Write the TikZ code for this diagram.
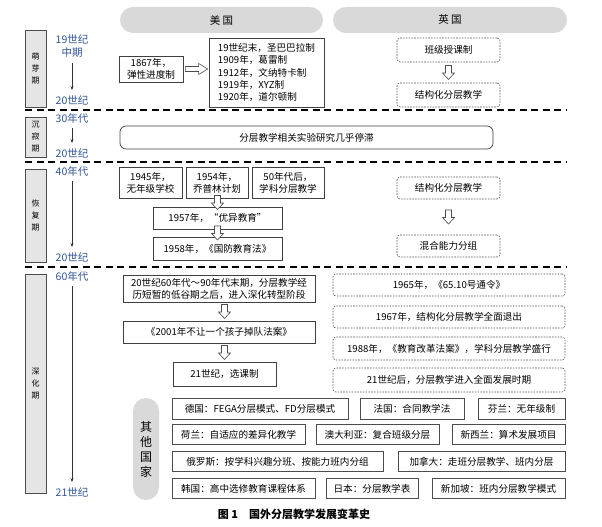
\documentclass[tikz,border=0pt]{standalone}
\usepackage{fontspec}
\setmainfont{Noto Sans CJK SC}
\usetikzlibrary{arrows.meta,calc}
\definecolor{yearblue}{RGB}{47,85,151}

\begin{document}
\begin{tikzpicture}[x=1pt,y=-1pt]
  \tikzstyle{every node}+=[inner sep=0pt, align=center, font=\fontsize{9.6}{12}\selectfont]
  \tikzstyle{pill}=[fill=black!15, rounded corners=13pt]
  \tikzstyle{stage}=[draw=black!70, fill=black!10, line width=0.8pt, minimum width=21pt, font=\fontsize{8}{12}\selectfont]
  \tikzstyle{yr}=[text=yearblue, font=\fontsize{10.5}{13}\selectfont]
  \tikzstyle{usbox}=[draw=black!75, fill=white, line width=0.7pt]
  \tikzstyle{ukbox}=[draw=black!65, line width=0.6pt, dash pattern=on 1.6pt off 1.2pt, rounded corners=3pt, fill=white]
  \tikzstyle{other}=[draw=black!70, fill=white, line width=0.6pt, minimum height=20.5pt]
  \tikzstyle{tline}=[black!80, line width=0.6pt, -{Stealth[length=4pt,width=3pt]}, shorten <=5pt, shorten >=5pt]
  \tikzstyle{hollow}=[draw=black!70, fill=white, line width=0.6pt]
  \tikzstyle{sep}=[line width=1.3pt, dash pattern=on 7pt off 4.5pt]
  \useasboundingbox (0,0) rectangle (602,527);
  \fill[white] (0,0) rectangle (602,527);
  % headers
  \node[pill, minimum width=203pt, minimum height=26pt] (hus) at (221.5,20) {\fontsize{10.5}{12}\selectfont 美~国};
  \node[pill, minimum width=234pt, minimum height=26pt] (huk) at (450,20) {\fontsize{10.5}{12}\selectfont 英~国};
  % stage 1
  \node[stage, minimum height=77pt] (s1) at (35.5,68.5) {萌\\芽\\期};
  \node[yr] (t19) at (72,46.5) {19世纪\\中期};
  \node[yr] (t20a) at (72,100) {20世纪};
  \draw[tline] (t19) -- (t20a);
  \node[usbox, minimum width=64pt, minimum height=26pt] (n1867) at (151,69) {1867年，\\弹性进度制};
  \node[usbox, minimum width=115pt, minimum height=69pt, align=left, font=\fontsize{9.6}{12.2}\selectfont] (usA) at (266.5,72.5)
    {19世纪末，圣巴巴拉制\\1909年，葛雷制\\1912年，文纳特卡制\\1919年，XYZ制\\1920年，道尔顿制};
  \node[ukbox, minimum width=103pt, minimum height=24pt] (ukA) at (448.5,50) {班级授课制};
  \node[ukbox, minimum width=103pt, minimum height=24pt] (ukB) at (448.5,95) {结构化分层教学};
  \draw[sep] (25,110) -- (567,110);
  % stage 2
  \node[stage, minimum height=40pt] (s2) at (35.5,137) {沉\\寂\\期};
  \node[yr] (t30) at (72,118) {30年代};
  \node[yr] (t20b) at (72,153) {20世纪};
  \draw[tline] (t30) -- (t20b);
  \node[usbox, rounded corners=6pt, minimum width=373pt, minimum height=23pt] (stall) at (306.5,137.5) {分层教学相关实验研究几乎停滞};
  \draw[sep] (25,162) -- (567,162);
  % stage 3
  \node[stage, minimum height=93pt] (s3) at (35.5,215.5) {恢\\复\\期};
  \node[yr] (t40) at (72,171) {40年代};
  \node[yr] (t20c) at (72,257) {20世纪};
  \draw[tline] (t40) -- (t20c);
  \node[usbox, minimum width=63pt, minimum height=31pt] (n1945) at (150.5,182.5) {1945年，\\无年级学校};
  \node[usbox, minimum width=62pt, minimum height=31pt] (n1954) at (217,182.5) {1954年，\\乔普林计划};
  \node[usbox, minimum width=72pt, minimum height=31pt] (n50s) at (288,182.5) {50年代后，\\学科分层教学};
  \node[usbox, minimum width=129pt, minimum height=22pt] (n1957) at (217.5,218) {1957年，“优异教育”};
  \node[usbox, minimum width=129pt, minimum height=23pt] (n1958) at (217.5,248.5) {1958年，《国防教育法》};
  \node[ukbox, minimum width=103pt, minimum height=22pt] (ukC) at (448.5,188) {结构化分层教学};
  \node[ukbox, minimum width=103pt, minimum height=22pt] (ukD) at (448.5,246) {混合能力分组};
  \draw[sep] (25,267) -- (567,267);
  % stage 4
  \node[stage, minimum height=219pt] (s4) at (35.5,383.5) {深\\化\\期};
  \node[yr] (t60) at (72,276) {60年代};
  \node[yr] (t21) at (72,492) {21世纪};
  \draw[tline] (t60) -- (t21);
  \node[usbox, minimum width=192pt, minimum height=27pt] (n60s) at (219,288.5) {20世纪60年代～90年代末期，分层教学经\\历短暂的低谷期之后，进入深化转型阶段};
  \node[usbox, minimum width=192pt, minimum height=22pt] (n2001) at (219,332) {《2001年不让一个孩子掉队法案》};
  \node[usbox, minimum width=103pt, minimum height=24pt] (n21c) at (224.5,374) {21世纪，选课制};
  \node[ukbox, minimum width=232pt, minimum height=22pt] (uk1965) at (449,285) {1965年，《65.10号通令》};
  \node[ukbox, minimum width=232pt, minimum height=22pt] (uk1967) at (449,317) {1967年，结构化分层教学全面退出};
  \node[ukbox, minimum width=232pt, minimum height=23pt] (uk1988) at (449,348.5) {1988年，《教育改革法案》，学科分层教学盛行};
  \node[ukbox, minimum width=232pt, minimum height=24pt] (uk21) at (449,380) {21世纪后，分层教学进入全面发展时期};
  % other countries
  \node[pill, minimum width=26pt, minimum height=102pt, font=\fontsize{12}{15}\selectfont] (others) at (146,449) {其\\他\\国\\家};
  \node[other, minimum width=176pt] (de) at (260,409) {德国：FEGA分层模式、FD分层模式};
  \node[other, minimum width=104pt] (fr) at (412,409) {法国：合同教学法};
  \node[other, minimum width=87pt] (fi) at (521.5,409) {芬兰：无年级制};
  \node[other, minimum width=133pt] (nl) at (238.5,434.5) {荷兰：自适应的差异化教学};
  \node[other, minimum width=123pt] (au) at (377.5,434.5) {澳大利亚：复合班级分层};
  \node[other, minimum width=113pt] (nz) at (508.5,434.5) {新西兰：算术发展项目};
  \node[other, minimum width=211pt] (ru) at (277.5,461.5) {俄罗斯：按学科兴趣分班、按能力班内分组};
  \node[other, minimum width=167pt] (ca) at (481.5,461.5) {加拿大：走班分层教学、班内分层};
  \node[other, minimum width=143pt] (kr) at (243.5,488.5) {韩国：高中选修教育课程体系};
  \node[other, minimum width=92pt] (jp) at (372,488.5) {日本：分层教学表};
  \node[other, minimum width=133pt] (sg) at (498.5,488.5) {新加坡：班内分层教学模式};
  % hollow arrows
  \draw[hollow] let \p1=(n1867.east), \p2=(usA.west) in
    (\x1+2pt,\y1+2.5pt) -- (\x2-10pt,\y1+2.5pt) -- (\x2-10pt,\y1+5.5pt) -- (\x2-1pt,\y1) --
    (\x2-10pt,\y1-5.5pt) -- (\x2-10pt,\y1-2.5pt) -- (\x1+2pt,\y1-2.5pt) -- cycle;
  \foreach \a/\b/\c in {ukA/ukB/ukB, n1954/n1957/n1957, n1957/n1958/n1958, ukC/ukD/ukD, n60s/n2001/n21c, n2001/n21c/n21c}
    \draw[hollow] let \p1=(\a.south), \p2=(\b.north), \p3=(\c.center), \n1={(\y1+\y2)/2} in
      (\x3-3pt,\n1+7pt) -- (\x3+3pt,\n1+7pt) -- (\x3+3pt,\n1-0.5pt) -- (\x3+6pt,\n1-0.5pt) -- (\x3,\n1-7pt) --
      (\x3-6pt,\n1-0.5pt) -- (\x3-3pt,\n1-0.5pt) -- cycle;
  % caption
  \node (cap) at (294,514) {\fontsize{11}{13}\selectfont\bfseries 图~1\quad 国外分层教学发展变革史};
\end{tikzpicture}
\end{document}
